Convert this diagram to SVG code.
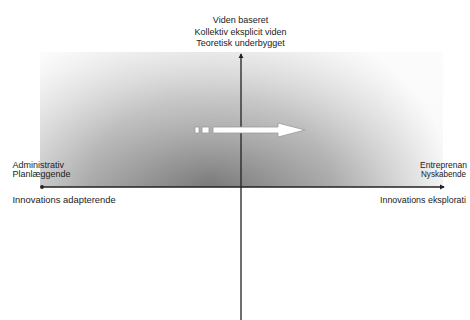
<svg xmlns="http://www.w3.org/2000/svg" width="470" height="320" viewBox="0 0 470 320">
<defs>
<radialGradient id="g" gradientUnits="userSpaceOnUse" cx="210" cy="185" r="240" gradientTransform="translate(210 185) scale(1 0.75) translate(-210 -185)">
<stop offset="0" stop-color="#7a7a7a"/>
<stop offset="0.5" stop-color="#a9a9a9"/>
<stop offset="1" stop-color="#f8f8f8"/>
</radialGradient>
<linearGradient id="v" x1="0" y1="52" x2="0" y2="187" gradientUnits="userSpaceOnUse">
<stop offset="0" stop-color="#fff" stop-opacity="0.55"/>
<stop offset="1" stop-color="#fff" stop-opacity="0"/>
</linearGradient>
<marker id="ah" viewBox="0 0 6 6" refX="5" refY="3" markerWidth="4" markerHeight="4" orient="auto">
<path d="M0,0 L6,3 L0,6 z" fill="#222"/>
</marker>
<marker id="dot" viewBox="0 0 6 6" refX="3" refY="3" markerWidth="3" markerHeight="3">
<circle cx="3" cy="3" r="3" fill="#222"/>
</marker>
</defs>
<style>
text{font-family:"Liberation Sans",Arial,sans-serif;font-size:9px;fill:#222}
.ax{stroke:#222;stroke-width:1.3;fill:none}
.wa{fill:#fff;stroke:#9a9a9a;stroke-width:0.8}
</style>
<rect width="470" height="320" fill="#fff"/>
<g id="field">
<rect x="40" y="52" width="403" height="135" fill="url(#g)"/>
<rect x="40" y="52" width="403" height="135" fill="url(#v)"/>
</g>
<g id="connectors">
<line class="ax" x1="241" y1="320" x2="241" y2="54" marker-end="url(#ah)"/>
<line class="ax" x1="42" y1="187" x2="444" y2="187" marker-start="url(#dot)" marker-end="url(#ah)"/>
</g>
<g id="movement">
<rect class="wa" x="195" y="127" width="4" height="6"/>
<rect class="wa" x="202" y="127" width="7" height="6"/>
<path class="wa" d="M213,127 L278,127 L278,123 L305,130 L278,137 L278,133 L213,133 z"/>
</g>
<g id="top-label">
<text x="240.5" y="23" text-anchor="middle">Viden baseret</text>
<text x="240.5" y="34.5" text-anchor="middle">Kollektiv eksplicit viden</text>
<text x="240.5" y="46" text-anchor="middle">Teoretisk underbygget</text>
</g>
<g id="left-label">
<text x="12.5" y="168">Administrativ</text>
<text x="12.5" y="177">Planlæggende</text>
<text x="12.5" y="203" style="font-size:9.4px">Innovations adapterende</text>
</g>
<g id="right-label">
<text x="420" y="168" textLength="47" lengthAdjust="spacingAndGlyphs">Entreprenan</text>
<text x="421" y="177" textLength="45" lengthAdjust="spacingAndGlyphs">Nyskabende</text>
<text x="380" y="203" style="font-size:9.4px" textLength="86" lengthAdjust="spacingAndGlyphs">Innovations eksplorati</text>
</g>
</svg>
